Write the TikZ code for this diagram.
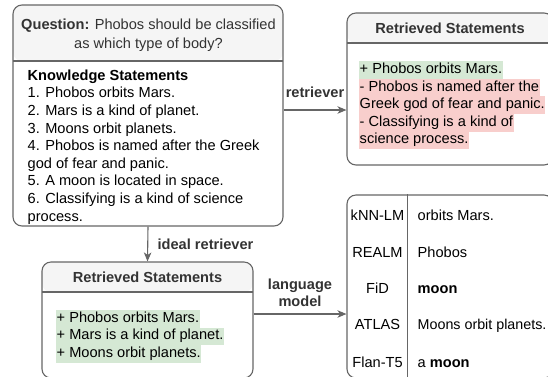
\documentclass[tikz,border=0pt]{standalone}
\usepackage{fontspec}
\setmainfont{Liberation Sans}
\usetikzlibrary{arrows.meta}
\definecolor{edgegray}{HTML}{666666}
\definecolor{hdrfill}{HTML}{F5F5F5}
\definecolor{hdrtext}{HTML}{333333}
\definecolor{okfill}{HTML}{D5E8D4}
\definecolor{badfill}{HTML}{F8CECC}
\tikzset{
  every node/.style={font=\fontsize{14.6}{17.6}\selectfont},
  box/.style={draw=edgegray, line width=1.1pt, fill=white, rounded corners=9pt, inner sep=0pt},
  swim/.style={box, path picture={
      \fill[hdrfill] (path picture bounding box.north west) rectangle ([yshift=-#1]path picture bounding box.north east);
      \draw[edgegray, line width=1.1pt] ([yshift=-#1]path picture bounding box.north west) -- ([yshift=-#1]path picture bounding box.north east);}},
  txt/.style={anchor=west, inner xsep=0.5pt, inner ysep=1.3pt, text height=11pt, text depth=4pt},
  hlok/.style={txt, fill=okfill},
  hlbad/.style={txt, fill=badfill},
  hdr/.style={text=hdrtext, font=\fontsize{14.6}{17.6}\selectfont\bfseries},
  lbl/.style={text=hdrtext, font=\fontsize{14.6}{17}\selectfont\bfseries, align=center},
  arr/.style={draw=edgegray, line width=1.1pt, -{Stealth[length=9pt, width=7.5pt, inset=2.5pt]}}
}
\begin{document}
\begin{tikzpicture}[x=1pt, y=-1pt]
\useasboundingbox (0,0) rectangle (548,376);
\clip (0,0) rectangle (548,376);
%boxes
    \node[swim=56pt, minimum width=270pt, minimum height=221pt] (qbox) at (148,115.5) {};
    \node[swim=30pt, minimum width=206pt, minimum height=152pt] (rbox) at (450,89) {};
    \node[swim=30pt, minimum width=211pt, minimum height=116pt] (ibox) at (147.5,320) {};
    \node[box, minimum width=206pt, minimum height=183pt] (lmbox) at (450,286.5) {};
    \draw[edgegray, line width=1.1pt] ([xshift=61pt]lmbox.north west) -- ([xshift=61pt]lmbox.south west);
%question
    \node[text=hdrtext, align=center, font=\fontsize{14.6}{19}\selectfont] (qtitle) at (148.5,35) {\textbf{Question:} Phobos should be classified\\as which type of body?};
%knowledge
    \node[txt] (k0) at (27,76.7) {\textbf{Knowledge Statements}};
    \node[txt] (k1) at (27,94.3) {1. Phobos orbits Mars.};
    \node[txt] (k2) at (27,111.9) {2. Mars is a kind of planet.};
    \node[txt] (k3) at (27,129.5) {3. Moons orbit planets.};
    \node[txt] (k4) at (27,147.1) {4. Phobos is named after the Greek};
    \node[txt] (k5) at (27,164.7) {god of fear and panic.};
    \node[txt] (k6) at (27,182.3) {5. A moon is located in space.};
    \node[txt] (k7) at (27,199.9) {6. Classifying is a kind of science};
    \node[txt] (k8) at (27,217.5) {process.};
%retrieved
    \node[hdr] (rtitle) at (450,28) {Retrieved Statements};
    \node[hlok] (r1) at (359,70) {+ Phobos orbits Mars.};
    \node[hlbad] (r2) at (359,87.6) {- Phobos is named after the};
    \node[hlbad] (r3) at (359,105.2) {Greek god of fear and panic.};
    \node[hlbad] (r4) at (359,122.8) {- Classifying is a kind of};
    \node[hlbad] (r5) at (359,140.4) {science process.};
%ideal
    \node[hdr] (ititle) at (147.5,277.5) {Retrieved Statements};
    \node[hlok] (i1) at (56,318.8) {+ Phobos orbits Mars.};
    \node[hlok] (i2) at (56,336.4) {+ Mars is a kind of planet.};
    \node[hlok] (i3) at (56,354) {+ Moons orbit planets.};
%models
    \node[txt, anchor=center] (m1) at (377.5,216.7) {kNN-LM};
    \node[txt, anchor=center] (m2) at (377.5,253.7) {REALM};
    \node[txt, anchor=center] (m3) at (377.5,289.7) {FiD};
    \node[txt, anchor=center] (m4) at (377.5,325.7) {ATLAS};
    \node[txt, anchor=center] (m5) at (377.5,363.7) {Flan-T5};
    \node[txt] (o1) at (417,216.7) {orbits Mars.};
    \node[txt] (o2) at (417,253.7) {Phobos};
    \node[txt] (o3) at (417,289.7) {\textbf{moon}};
    \node[txt, font=\fontsize{14.3}{17.6}\selectfont] (o4) at (417,325.7) {Moons orbit planets.};
    \node[txt] (o5) at (417,363.7) {a \textbf{moon}};
%arrows
    \coordinate (rtip) at (300,110); \coordinate (ltip) at (300,314);
    \draw[arr] (qbox.east |- rtip) -- (rbox.west |- rtip) node[lbl, midway, above=8pt] (rlbl) {retriever};
    \draw[arr] (qbox.south) -- (ibox.north) node[lbl, midway, right=6pt] (ilbl) {ideal retriever};
    \draw[arr] (ibox.east |- ltip) -- (lmbox.west |- ltip) node[lbl, midway, above=3pt] (llbl) {language\\model};
\end{tikzpicture}
\end{document}
